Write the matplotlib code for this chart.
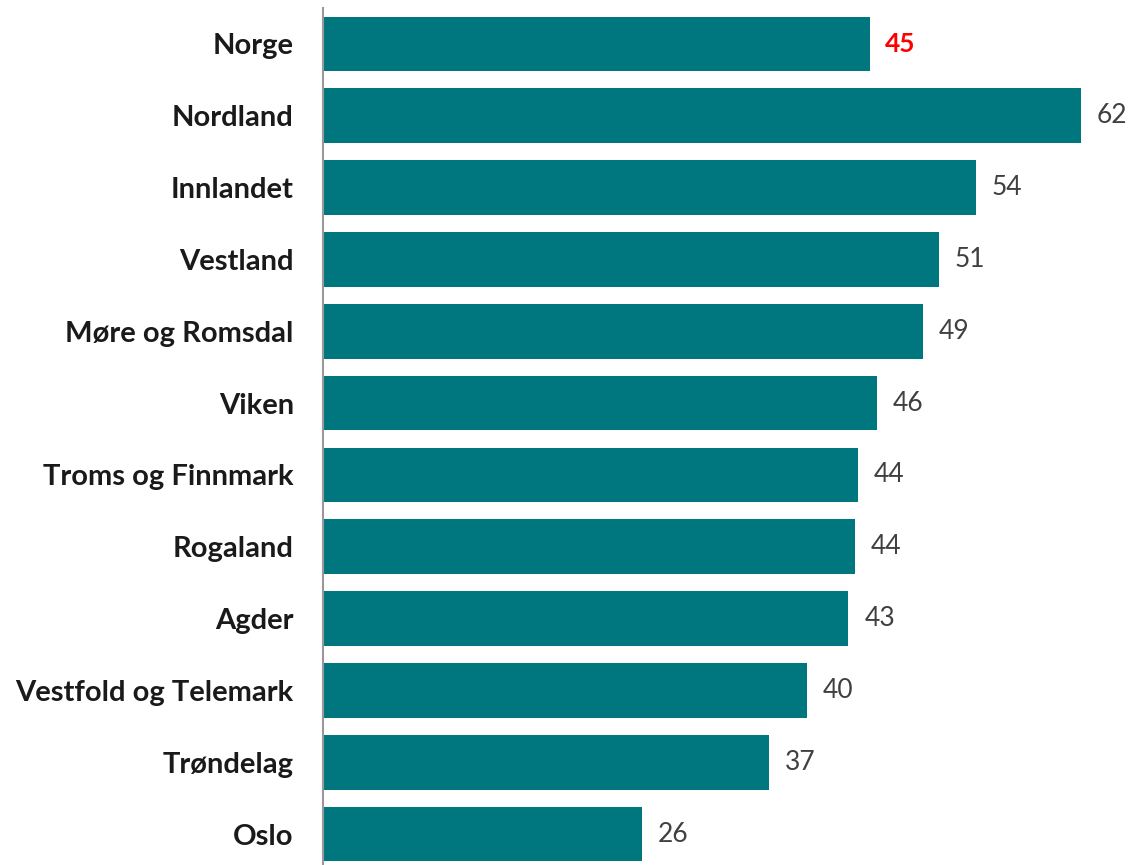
import matplotlib.pyplot as plt

# Data
regions = ["Norge", "Nordland", "Innlandet", "Vestland", "Møre og Romsdal", "Viken",
           "Troms og Finnmark", "Rogaland", "Agder", "Vestfold og Telemark",
           "Trøndelag", "Oslo"]
# bar lengths (unrounded), and the printed labels
values = [44.8, 62.0, 53.4, 50.4, 49.1, 45.3, 43.8, 43.5, 43.0, 39.6, 36.5, 26.1]
labels = ["45", "62", "54", "51", "49", "46", "44", "44", "43", "40", "37", "26"]

plt.rcParams['font.family'] = ['Lato', 'DejaVu Sans']

fig = plt.figure(figsize=(11.32, 8.65), dpi=100)
ax = fig.add_axes([0.2853, 0.0, 0.7147, 0.9908])

ypos = range(len(regions))
ax.barh(ypos, values, height=0.76, color="#00777F")

for i, v in enumerate(values):
    if i == 0:
        ax.text(v + 1.2, i, labels[i], va="center", ha="left", fontsize=19,
                color="#FF0000", fontweight="bold")
    else:
        ax.text(v + 1.3, i, labels[i], va="center", ha="left", fontsize=19,
                color="#404040")

ax.set_yticks(list(ypos))
ax.set_yticklabels(regions, fontsize=21, fontweight="bold", color="#1a1a1a")
ax.tick_params(axis="y", length=0, pad=21)
ax.set_xticks([])
ax.set_xlim(0, 66.2)
ax.set_ylim(11.43, -0.5)

for s in ["top", "right", "bottom"]:
    ax.spines[s].set_visible(False)
ax.spines["left"].set_color("#999999")
ax.spines["left"].set_linewidth(1.5)

plt.savefig("out.png", dpi=100)
